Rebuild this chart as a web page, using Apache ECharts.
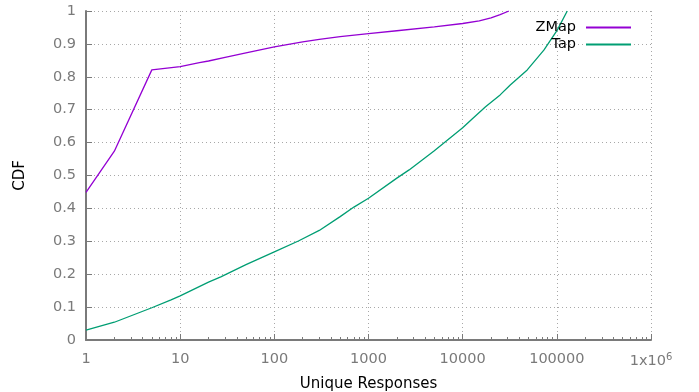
<!DOCTYPE html>
<html>
<head>
<meta charset="utf-8">
<script src="https://cdn.jsdelivr.net/npm/echarts@6/dist/echarts.min.js"></script>
<style>
html,body{margin:0;padding:0;background:#fff;}
#c{width:699px;height:392px;}
</style>
</head>
<body>
<div id="c"></div>
<script>
// ---- data ----
const zmapX = [1, 2, 5, 10, 16, 20, 30, 50, 100, 200, 300, 500, 1000, 2000, 5000, 10000, 15000, 20000, 25000, 31000];
const zmapY = [0.449, 0.574, 0.821, 0.831, 0.843, 0.848, 0.859, 0.873, 0.891, 0.906, 0.914, 0.922, 0.931, 0.940, 0.952, 0.962, 0.970, 0.979, 0.989, 1.0];
const tapX = [1, 2, 5, 8, 10, 20, 27, 50, 100, 180, 300, 500, 700, 1000, 2000, 2700, 5000, 10000, 12600, 17500, 25000, 32000, 48500, 72800, 101000, 129000];
const tapY = [0.030, 0.054, 0.098, 0.122, 0.134, 0.176, 0.192, 0.229, 0.268, 0.301, 0.333, 0.375, 0.404, 0.431, 0.492, 0.517, 0.575, 0.645, 0.672, 0.709, 0.745, 0.775, 0.821, 0.881, 0.942, 1.0];
const seriesNames = ['ZMap', 'Tap'];
const xTickLabels = {1:'1', 10:'10', 100:'100', 1000:'1000', 10000:'10000', 100000:'100000'};
const minorXTicks = [];
for (let d = 1; d < 1e6; d *= 10) { for (let k = 2; k <= 9; k++) minorXTicks.push(k * d); }

const pairs = (xs, ys) => xs.map((x, i) => [x, ys[i]]);
const FONT = 'DejaVu Sans';
const GRAY = '#7a7a7a';
const LBL = 14.5;

const chart = echarts.init(document.getElementById('c'), null, {renderer: 'canvas'});
chart.setOption({
  animation: false,
  backgroundColor: '#fff',
  grid: {left: 86, right: 48, top: 11, bottom: 52, containLabel: false, outerBoundsMode: 'none'},
  legend: {
    data: seriesNames,
    orient: 'vertical',
    right: 68,
    top: 20,
    padding: 0,
    align: 'right',
    itemGap: 2,
    itemWidth: 45,
    itemHeight: 2,
    icon: 'rect',
    textStyle: {fontFamily: FONT, fontSize: LBL, lineHeight: 15, color: '#000', padding: [0, 5, 0, 0]}
  },
  xAxis: [{
    type: 'log',
    logBase: 10,
    min: 1,
    max: 1e6,
    name: 'Unique Responses',
    nameLocation: 'middle',
    nameGap: 37,
    nameTextStyle: {fontFamily: FONT, fontSize: 15, color: '#000'},
    axisLine: {show: true, lineStyle: {color: GRAY, width: 2}},
    axisTick: {show: true, inside: true, length: 6, lineStyle: {color: GRAY, width: 1}},
    axisLabel: {
      fontFamily: FONT, fontSize: LBL, color: GRAY, margin: 12,
      formatter: v => v >= 1e6 - 1 ? '1x10{sup|6}' : (xTickLabels[Math.round(v)] || String(v)),
      rich: {sup: {fontFamily: FONT, fontSize: 10, color: GRAY, verticalAlign: 'top', padding: [0, 0, 8, 0]}}
    },
    splitLine: {show: true, lineStyle: {color: '#a8a8a8', type: [1, 3], width: 1}}
  }, {
    type: 'log',
    logBase: 10,
    min: 1,
    max: 1e6,
    position: 'bottom',
    axisLine: {show: false},
    axisLabel: {show: false},
    splitLine: {show: false},
    axisTick: {show: true, inside: true, length: 3, customValues: minorXTicks, lineStyle: {color: GRAY, width: 1}}
  }],
  yAxis: {
    type: 'value',
    min: 0,
    max: 1,
    interval: 0.1,
    name: 'CDF',
    nameLocation: 'middle',
    nameGap: 58,
    nameRotate: 90,
    nameTextStyle: {fontFamily: FONT, fontSize: 15, color: '#000'},
    axisLine: {show: true, lineStyle: {color: GRAY, width: 2}},
    axisTick: {show: true, inside: true, length: 6, lineStyle: {color: GRAY, width: 1}},
    axisLabel: {fontFamily: FONT, fontSize: LBL, color: GRAY, margin: 10,
      formatter: v => String(Math.round(v * 10) / 10)},
    splitLine: {show: true, lineStyle: {color: '#a8a8a8', type: [1, 3], width: 1}}
  },
  series: [{
    name: seriesNames[0],
    type: 'line',
    data: pairs(zmapX, zmapY),
    showSymbol: false,
    symbol: 'none',
    color: '#9400D3',
    lineStyle: {width: 1.3, color: '#9400D3'},
    clip: true
  }, {
    name: seriesNames[1],
    type: 'line',
    data: pairs(tapX, tapY),
    showSymbol: false,
    symbol: 'none',
    color: '#009E73',
    lineStyle: {width: 1.3, color: '#009E73'},
    clip: true
  }]
});
</script>
</body>
</html>
